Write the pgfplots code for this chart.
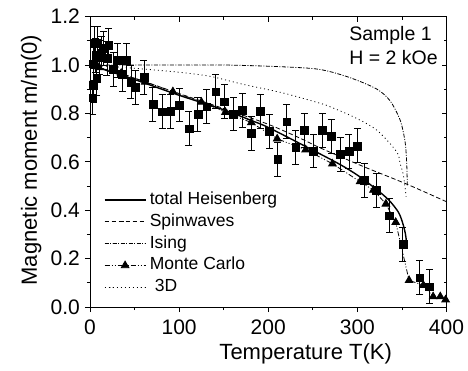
\documentclass[border=0pt]{standalone}
\usepackage{fontspec}
\setmainfont{Liberation Sans}
\usepackage{pgfplots}
\pgfplotsset{compat=1.18}
\begin{document}
\begin{tikzpicture}
\path[use as bounding box] (-90bp,-64bp) rectangle (378bp,307bp);
\begin{axis}[
  at={(0,0)}, anchor=south west, scale only axis,
  width=356.5bp, height=290.4bp,
  xmin=0, xmax=400, ymin=0, ymax=1.2,
  xtick={0,100,200,300,400}, minor x tick num=1,
  ytick={0,0.2,0.4,0.6,0.8,1.0,1.2}, minor y tick num=1,
  xtick pos=left, ytick pos=left, tick align=outside,
  major tick length=5bp, minor tick length=3bp,
  every tick/.style={black, line width=0.8bp},
  axis line style={line width=0.9bp},
  /pgf/number format/assume math mode=true,
  tick label style={font=\fontsize{21bp}{25bp}\selectfont},
  yticklabel style={/pgf/number format/fixed, /pgf/number format/fixed zerofill, /pgf/number format/precision=1},
  xticklabel style={inner sep=0pt, yshift=-8bp},
  yticklabel style={inner sep=0pt, xshift=-5bp},
  xlabel={Temperature T(K)},
  xlabel style={at={(axis description cs:0.605,-0.1825)}, anchor=base, inner sep=0pt, font=\fontsize{22bp}{26bp}\selectfont},
  ylabel={Magnetic moment m/m(0)},
  ylabel style={at={(axis description cs:-0.1487,0.506)}, anchor=base, inner sep=0pt, font=\fontsize{22bp}{26bp}\selectfont},
  legend cell align=left,
  legend style={at={(0.039,0.0386)}, anchor=south west, draw=none, fill=none,
    inner sep=0pt, outer sep=0pt, font=\fontsize{17.5bp}{21bp}\selectfont,
    nodes={inner sep=0pt, text height=13bp, text depth=4bp},
    /tikz/row sep=4.8bp, /tikz/column sep=3.5bp},
  legend image code/.code={
    \draw[mark repeat=2,mark phase=2] plot coordinates {(0bp,0bp) (20.5bp,0bp) (41bp,0bp)};
  },
]
% total Heisenberg
\addplot[black, line width=1.4bp, smooth, tension=0.5] coordinates {
(0,1.0) (25,0.97) (50,0.94) (100,0.875) (150,0.815) (180,0.772) (200,0.742) (250,0.648) (280,0.59) (300,0.545) (320,0.49) (335,0.443) (346,0.392) (351,0.345) (354,0.30) (355.5,0.255)};
\addlegendentry{total Heisenberg}
% Spinwaves
\addplot[black, line width=0.8bp, dash pattern=on 4.5bp off 2.5bp, smooth, tension=0.5] coordinates {
(0,1.0) (50,0.945) (100,0.882) (150,0.82) (200,0.755) (236,0.697) (258,0.658) (307,0.58) (354,0.51) (400,0.435)};
\addlegendentry{Spinwaves}
% Ising
\addplot[black, line width=0.8bp, dash pattern=on 4bp off 1.5bp on 1bp off 1.5bp, smooth, tension=0.5] coordinates {
(0,1.0) (100,1.0) (150,1.0) (200,0.995) (248,0.986) (270,0.972) (296,0.942) (322,0.9) (336.7,0.852) (348,0.772) (353.5,0.683) (355.4,0.59) (356,0.50)};
\addlegendentry{Ising}
% Monte Carlo
\addplot[black, line width=0.8bp, dash pattern=on 5bp off 2bp on 1bp off 2bp on 1bp off 2bp, mark=triangle*, mark size=4.4bp, mark options={solid, fill=black}] coordinates {
(10,0.99) (35,0.966) (62,0.93) (93,0.89) (125,0.847) (152,0.805) (181,0.762) (210,0.695) (242,0.65) (272,0.592) (303,0.518) (318,0.483) (332,0.426) (343,0.35) (358,0.11) (374,0.09) (385,0.043) (393,0.043) (399,0.03)};
\addlegendentry{Monte Carlo}
% 3D
\addplot[black, line width=0.8bp, dash pattern=on 1bp off 3bp, smooth, tension=0.5] coordinates {
(0,1.0) (45,0.988) (100,0.97) (135,0.953) (172,0.92) (217,0.884) (258,0.842) (269,0.828) (295.5,0.786) (321.7,0.731) (344,0.642) (348,0.592) (351.6,0.545) (354.7,0.456)};
\addlegendentry{\hspace*{5bp}3D}
% data with error bars
\addplot[forget plot, only marks, mark=square*, mark size=3.9bp, mark options={fill=black, draw=black},
  error bars/.cd, y dir=both, y explicit, error bar style={black, line width=0.8bp},
  error mark options={rotate=90, mark size=3.5bp, line width=0.8bp, black}] coordinates {
(3,0.865) +- (0,0.07)
(3.5,0.917) +- (0,0.07)
(4,1.005) +- (0,0.07)
(5,1.09) +- (0,0.07)
(8,1.09) +- (0,0.07)
(6.5,1.04) +- (0,0.07)
(7.5,0.946) +- (0,0.07)
(10.5,1.03) +- (0,0.07)
(13,1.05) +- (0,0.07)
(15.5,1.07) +- (0,0.07)
(19,1.028) +- (0,0.07)
(21,1.083) +- (0,0.07)
(26,0.983) +- (0,0.07)
(31,1.02) +- (0,0.07)
(36,0.962) +- (0,0.07)
(41,1.02) +- (0,0.07)
(46,0.93) +- (0,0.07)
(51,0.908) +- (0,0.07)
(60.5,0.949) +- (0,0.07)
(70.5,0.839) +- (0,0.07)
(81,0.807) +- (0,0.07)
(90.5,0.81) +- (0,0.07)
(100.5,0.835) +- (0,0.07)
(111,0.737) +- (0,0.07)
(121,0.796) +- (0,0.07)
(131,0.828) +- (0,0.07)
(141,0.89) +- (0,0.07)
(151,0.848) +- (0,0.07)
(161,0.798) +- (0,0.07)
(171,0.814) +- (0,0.07)
(181,0.718) +- (0,0.07)
(191,0.81) +- (0,0.07)
(201,0.727) +- (0,0.07)
(210.5,0.61) +- (0,0.07)
(220.7,0.766) +- (0,0.07)
(230.8,0.66) +- (0,0.07)
(240.5,0.729) +- (0,0.07)
(250.7,0.645) +- (0,0.07)
(260.7,0.729) +- (0,0.07)
(270.5,0.705) +- (0,0.07)
(280.6,0.632) +- (0,0.07)
(290.5,0.643) +- (0,0.07)
(300.2,0.666) +- (0,0.07)
(307.5,0.523) +- (0,0.07)
(321,0.481) +- (0,0.07)
(336,0.377) +- (0,0.07)
(351,0.259) +- (0,0.07)
(370,0.121) +- (0,0.07)
(380.8,0.084) +- (0,0.07)
};
\node[anchor=base west, inner sep=0pt, font=\fontsize{19.5bp}{23bp}\selectfont] at (axis cs:290.7,1.103) {Sample 1};
\node[anchor=base west, inner sep=0pt, font=\fontsize{19.5bp}{23bp}\selectfont] at (axis cs:290.7,1.003) {H = 2 kOe};
\end{axis}
\begin{axis}[
  at={(0,0)}, anchor=south west, scale only axis,
  width=356.5bp, height=290.4bp,
  xmin=0, xmax=400, ymin=0, ymax=1.2,
  xtick={0,100,200,300,400}, minor x tick num=1,
  ytick={0,0.2,0.4,0.6,0.8,1.0,1.2}, minor y tick num=1,
  xtick pos=right, ytick pos=right, tick align=inside,
  major tick length=5bp, minor tick length=3bp,
  every tick/.style={black, line width=0.8bp},
  axis line style={line width=0.9bp},
  xticklabels={}, yticklabels={},
]
\end{axis}
\end{tikzpicture}
\end{document}
